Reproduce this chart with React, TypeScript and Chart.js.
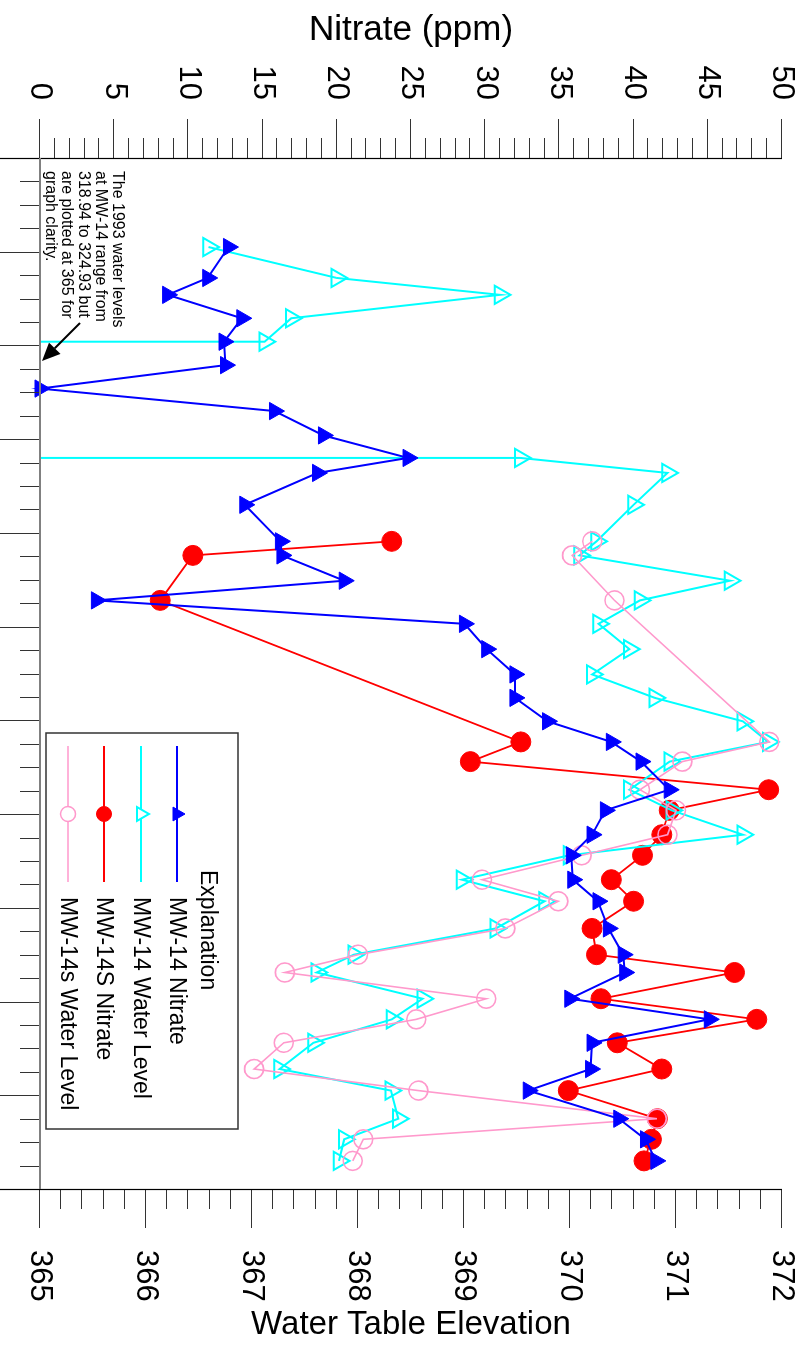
import React, { useEffect, useRef } from "react";
import { Chart, registerables } from "chart.js";

Chart.register(...registerables);

// Canvas is drawn in the un-rotated frame (time runs left to right) and
// turned 90 degrees clockwise with CSS, as in the reference.
const W = 1350;
const H = 807;
const FONT = '"Liberation Sans", Arial, Helvetica, sans-serif';

const yearStart = 1991;
const yearEnd = 2002;

const nitrateTickValues = [0, 5, 10, 15, 20, 25, 30, 35, 40, 45, 50];
const elevationTickValues = [365, 366, 367, 368, 369, 370, 371, 372];

const nitrateAxisTitle = "Nitrate (ppm)";
const elevationAxisTitle = "Water Table Elevation";

const legendTitle = "Explanation";
const seriesNames = ["MW-14 Nitrate", "MW-14 Water Level", "MW-14S Nitrate", "MW-14s Water Level"];

const noteLines = [
  "The 1993 water levels",
  "at MW-14 range from",
  "318.94 to 324.93 but",
  "are plotted at 365 for",
  "graph clarity.",
];

// sampling dates (decimal years)
const sampleDates = [
  1991.95, 1992.28, 1992.46, 1992.71, 1992.96, 1993.21, 1993.46, 1993.70, 1993.96, 1994.20,
  1994.36, 1994.70, 1995.09, 1995.24, 1995.51, 1995.72, 1995.97, 1996.24, 1996.51, 1996.76,
  1997.01, 1997.23, 1997.44, 1997.74, 1997.96, 1998.22, 1998.44, 1998.70, 1998.93, 1999.22,
  1999.50, 1999.69, 1999.97, 2000.19, 2000.44, 2000.72, 2000.95, 2001.25, 2001.47, 2001.70,
];

const mw14Nitrate = [
  12.7, 11.3, 8.6, 13.6, 12.4, 12.5, 0, 15.8, 19.1, 24.8,
  18.7, 13.8, 16.2, 16.3, 20.5, 3.8, 28.6, 30.1, 32.0, 32.0,
  34.2, 38.5, 40.5, 42.4, 38.1, 37.2, 35.8, 35.9, 37.6, 38.3,
  39.3, 39.4, 35.7, 45.1, 37.2, 37.1, 32.9, 39.0, 40.8, 41.5,
];

// MW-14 water level: the 1993 values are plotted at 365
const mw14WaterDates = [
  1991.95, 1992.28, 1992.46, 1992.71, 1992.96, 1992.96, 1993.21, 1993.46, 1993.70, 1993.96,
  1994.20, 1994.20,
  1994.36, 1994.70, 1995.09, 1995.24, 1995.51, 1995.72, 1995.97, 1996.24, 1996.51, 1996.76,
  1997.01, 1997.23, 1997.44, 1997.74, 1997.96, 1998.22, 1998.44, 1998.70, 1998.93, 1999.22,
  1999.50, 1999.69, 1999.97, 2000.19, 2000.44, 2000.72, 2000.95, 2001.25, 2001.47, 2001.70,
];
const mw14WaterLevel = [
  366.59, 367.80, 369.34, 367.37, 367.12, 365, 365, 365, 365, 365,
  365, 369.53,
  370.92, 370.60, 370.25, 370.09, 371.51, 370.66, 370.27, 370.56, 370.21, 370.80,
  371.63, 371.87, 370.94, 370.56, 370.96, 371.63, 369.99, 368.98, 369.76, 369.30,
  367.96, 367.61, 368.61, 368.32, 367.58, 367.26, 368.31, 368.38, 367.87, 367.82,
];

const mw14sNitrate = [
  null, null, null, null, null, null, null, null, null, null,
  null, null, 23.7, 10.3, null, 8.1, null, null, null, null,
  null, 32.4, 29.0, 49.1, 42.4, 41.9, 40.6, 38.5, 40.0, 37.2,
  37.5, 46.8, 37.8, 48.3, 38.9, 41.9, 35.6, 41.6, 41.2, 40.7,
];

const mw14sWaterLevel = [
  null, null, null, null, null, null, null, null, null, null,
  null, null, 370.21, 370.02, null, 370.42, null, null, null, null,
  null, 371.88, 371.06, 370.66, 371.00, 370.92, 370.11, 369.17, 369.89, 369.39,
  368.00, 367.31, 369.21, 368.55, 367.30, 367.02, 368.57, 370.82, 368.05, 367.95,
];

const BLUE = "#0000ff";
const CYAN = "#00ffff";
const RED = "#ff0000";
const PINK = "#ff99cc";

const legendItems = [
  { style: "triangle", fill: BLUE, stroke: BLUE, lw: 1, r: 8, line: 2 },
  { style: "triangle", fill: null, stroke: CYAN, lw: 2, r: 8, line: 2 },
  { style: "circle", fill: RED, stroke: RED, lw: 1, r: 7.5, line: 2 },
  { style: "circle", fill: null, stroke: PINK, lw: 1.5, r: 7.5, line: 1.5 },
];

function pts(xs: number[], ys: (number | null)[]) {
  return xs.map((x, i) => ({ x, y: ys[i] }));
}

function drawMarker(ctx: CanvasRenderingContext2D, style: string, x: number, y: number, r: number,
  fill: string | null, stroke: string | null, lw: number) {
  ctx.beginPath();
  if (style === "triangle") {
    ctx.moveTo(x, y - r);
    ctx.lineTo(x + r * 0.866, y + r * 0.5);
    ctx.lineTo(x - r * 0.866, y + r * 0.5);
    ctx.closePath();
  } else {
    ctx.arc(x, y, r, 0, Math.PI * 2);
  }
  if (fill) {
    ctx.fillStyle = fill;
    ctx.fill();
  }
  if (stroke) {
    ctx.strokeStyle = stroke;
    ctx.lineWidth = lw;
    ctx.stroke();
  }
}

const framePlugin = {
  id: "frame",
  afterDraw(chart: any) {
    const { ctx, chartArea, scales } = chart;
    const { left, right, top, bottom } = chartArea;
    const xs = scales.x;
    const yN = scales.yN;
    const yE = scales.yE;
    const seg = (x1: number, y1: number, x2: number, y2: number) => {
      ctx.beginPath();
      ctx.moveTo(x1, y1);
      ctx.lineTo(x2, y2);
      ctx.stroke();
    };
    ctx.save();
    // time ticks (below the time axis)
    ctx.strokeStyle = "#333";
    ctx.lineWidth = 1;
    const nq = (yearEnd - yearStart) * 4;
    for (let i = 0; i <= nq; i++) {
      const px = Math.round(xs.getPixelForValue(yearStart + i / 4)) + 0.5;
      seg(px, bottom, px, bottom + (i % 4 === 0 ? 40 : 20));
    }
    // nitrate ticks (left)
    for (let v = 0; v <= 50; v++) {
      const py = Math.round(yN.getPixelForValue(v)) + 0.5;
      seg(left - (v % 5 === 0 ? 39 : 20), py, left, py);
    }
    // elevation ticks (right)
    for (let i = 0; i <= 35; i++) {
      const py = Math.round(yE.getPixelForValue(365 + i * 0.2)) + 0.5;
      seg(right, py, right + (i % 5 === 0 ? 39 : 20), py);
    }
    // axis lines
    ctx.strokeStyle = "#000";
    ctx.lineWidth = 1.2;
    seg(left + 0.5, top, left + 0.5, H);
    seg(right + 0.5, top, right + 0.5, H);
    ctx.strokeStyle = "#808080";
    ctx.lineWidth = 2;
    seg(left, bottom, right, bottom);

    // axis titles (rotated so they read upright once the chart is turned)
    ctx.fillStyle = "#000";
    ctx.textAlign = "center";
    ctx.textBaseline = "middle";
    const cy = (top + bottom) / 2;
    ctx.save();
    ctx.font = `35px ${FONT}`;
    ctx.translate(30, cy);
    ctx.rotate(-Math.PI / 2);
    ctx.fillText(nitrateAxisTitle, 0, 0);
    ctx.restore();
    ctx.save();
    ctx.font = `33px ${FONT}`;
    ctx.translate(1325, cy);
    ctx.rotate(-Math.PI / 2);
    ctx.fillText(elevationAxisTitle, 0, 0);
    ctx.restore();

    // legend box
    const bx = 733, by = 569, bw = 396, bh = 192;
    ctx.fillStyle = "#fff";
    ctx.fillRect(bx, by, bw, bh);
    ctx.strokeStyle = "#333";
    ctx.lineWidth = 1.5;
    ctx.strokeRect(bx, by, bw, bh);
    ctx.fillStyle = "#000";
    ctx.font = `23px ${FONT}`;
    ctx.textAlign = "left";
    ctx.textBaseline = "middle";
    ctx.fillText(legendTitle, 870, 600);
    const rowY = [630, 666, 703, 739];
    legendItems.forEach((it, i) => {
      const y = rowY[i];
      ctx.strokeStyle = it.stroke;
      ctx.lineWidth = it.line;
      seg(746, y, 882, y);
      drawMarker(ctx, it.style, 814, y, it.r, it.fill ? it.fill : "#fff", it.stroke, it.lw);
      ctx.fillStyle = "#000";
      ctx.fillText(seriesNames[i], 897, y + 1);
    });

    // note + arrow
    ctx.font = `16px ${FONT}`;
    ctx.fillStyle = "#000";
    noteLines.forEach((t, i) => ctx.fillText(t, 171, 690 + i * 16.7));
    const ax1 = 323, ay1 = 727, ax2 = 361, ay2 = 765;
    ctx.strokeStyle = "#000";
    ctx.lineWidth = 2;
    const ang = Math.atan2(ay2 - ay1, ax2 - ax1);
    const hl = 18, hw = 8;
    const bxh = ax2 - hl * Math.cos(ang), byh = ay2 - hl * Math.sin(ang);
    seg(ax1, ay1, bxh, byh);
    ctx.beginPath();
    ctx.moveTo(ax2, ay2);
    ctx.lineTo(bxh + hw * Math.sin(ang), byh - hw * Math.cos(ang));
    ctx.lineTo(bxh - hw * Math.sin(ang), byh + hw * Math.cos(ang));
    ctx.closePath();
    ctx.fillStyle = "#000";
    ctx.fill();
    ctx.restore();
  },
};

export default function App() {
  const ref = useRef<HTMLCanvasElement>(null);
  useEffect(() => {
    const canvas = ref.current;
    if (!canvas) return;
    const tickFont = { family: FONT, size: 31 };
    const chart = new Chart(canvas, {
      type: "line",
      data: {
        datasets: [
          {
            label: seriesNames[0],
            data: pts(sampleDates, mw14Nitrate),
            yAxisID: "yN",
            borderColor: BLUE,
            borderWidth: 2,
            pointStyle: "triangle",
            pointRadius: 10,
            pointBackgroundColor: BLUE,
            pointBorderColor: BLUE,
            pointBorderWidth: 1,
            spanGaps: true,
            clip: false,
            order: 0,
          },
          {
            label: seriesNames[1],
            data: pts(mw14WaterDates, mw14WaterLevel),
            yAxisID: "yE",
            borderColor: CYAN,
            borderWidth: 2,
            pointStyle: "triangle",
            pointRadius: (c: any) => (c.raw && c.raw.y === 365 ? 0 : 10.5),
            pointBackgroundColor: "rgba(0,0,0,0)",
            pointBorderColor: CYAN,
            pointBorderWidth: 2,
            spanGaps: true,
            clip: false,
            order: 2,
          },
          {
            label: seriesNames[2],
            data: pts(sampleDates, mw14sNitrate),
            yAxisID: "yN",
            borderColor: RED,
            borderWidth: 1.8,
            pointStyle: "circle",
            pointRadius: 10,
            pointBackgroundColor: RED,
            pointBorderColor: RED,
            pointBorderWidth: 1,
            spanGaps: true,
            clip: false,
            order: 3,
          },
          {
            label: seriesNames[3],
            data: pts(sampleDates, mw14sWaterLevel),
            yAxisID: "yE",
            borderColor: PINK,
            borderWidth: 1.6,
            pointStyle: "circle",
            pointRadius: 9.5,
            pointBackgroundColor: "rgba(0,0,0,0)",
            pointBorderColor: PINK,
            pointBorderWidth: 1.6,
            spanGaps: true,
            clip: false,
            order: 1,
          },
        ],
      },
      options: {
        responsive: false,
        maintainAspectRatio: false,
        animation: false,
        events: [],
        layout: { padding: { top: 25, left: 0, right: 0, bottom: 0 } },
        plugins: {
          legend: { display: false },
          tooltip: { enabled: false },
          title: { display: false },
        },
        elements: { line: { tension: 0 } },
        scales: {
          x: {
            type: "linear",
            position: "bottom",
            min: yearStart,
            max: yearEnd,
            grid: { display: false, drawTicks: false },
            border: { display: false },
            ticks: { display: false },
            afterFit: (s: any) => {
              s.height = 40;
              s.paddingLeft = 0;
              s.paddingRight = 0;
            },
          },
          yN: {
            type: "linear",
            position: "left",
            min: 0,
            max: 50,
            afterBuildTicks: (s: any) => {
              s.ticks = nitrateTickValues.map((v) => ({ value: v }));
            },
            grid: { display: false, drawTicks: false },
            border: { display: false },
            ticks: { font: tickFont, color: "#000", padding: 58, callback: (v: any) => String(v) },
            afterFit: (s: any) => {
              s.width = 158;
              s.paddingTop = 0;
              s.paddingBottom = 0;
            },
          },
          yE: {
            type: "linear",
            position: "right",
            min: 365,
            max: 372,
            afterBuildTicks: (s: any) => {
              s.ticks = elevationTickValues.map((v) => ({ value: v }));
            },
            grid: { display: false, drawTicks: false },
            border: { display: false },
            ticks: { font: tickFont, color: "#000", padding: 61, callback: (v: any) => String(v) },
            afterFit: (s: any) => {
              s.width = 161;
              s.paddingTop = 0;
              s.paddingBottom = 0;
            },
          },
        },
      },
      plugins: [framePlugin],
    } as any);
    return () => chart.destroy();
  }, []);

  return (
    <div
      style={{
        position: "absolute",
        left: 0,
        top: 0,
        width: W,
        height: H,
        transformOrigin: "0 0",
        transform: `translate(${H}px, 0px) rotate(90deg)`,
        background: "#fff",
      }}
    >
      <canvas ref={ref} width={W} height={H} style={{ width: W, height: H, display: "block" }} />
    </div>
  );
}
